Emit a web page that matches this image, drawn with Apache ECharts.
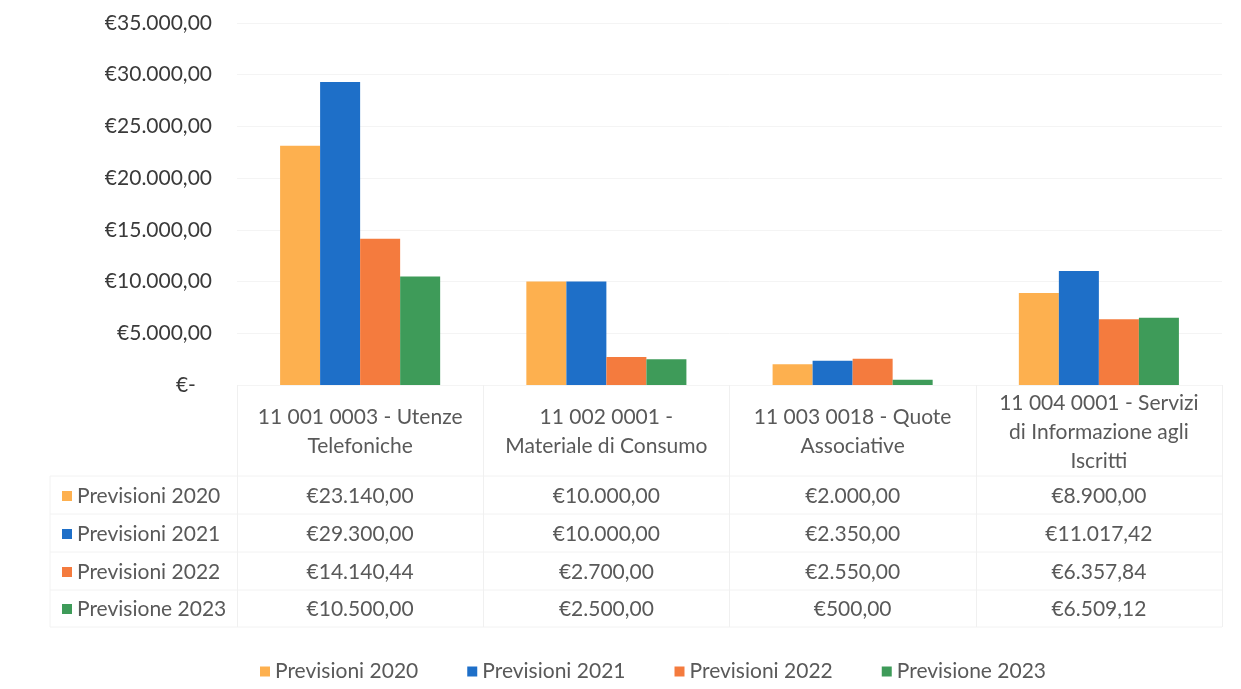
<!DOCTYPE html>
<html>
<head>
<meta charset="utf-8">
<script src="https://cdn.jsdelivr.net/npm/echarts@6/dist/echarts.min.js"></script>
<style>
  html, body { margin: 0; padding: 0; background: #ffffff; }
  #chart { width: 1241px; height: 689px; }
</style>
</head>
<body>
<div id="chart"></div>
<script>
// Budget lines (categories) and yearly forecasts
const categories = [
  '11 001 0003 - Utenze\nTelefoniche',
  '11 002 0001 -\nMateriale di Consumo',
  '11 003 0018 - Quote\nAssociative',
  '11 004 0001 - Servizi\ndi Informazione agli\nIscritti'
];
const seriesNames = ['Previsioni 2020', 'Previsioni 2021', 'Previsioni 2022', 'Previsione 2023'];
const prev2020 = [23140.00, 10000.00, 2000.00, 8900.00];
const prev2021 = [29300.00, 10000.00, 2350.00, 11017.42];
const prev2022 = [14140.44, 2700.00, 2550.00, 6357.84];
const prev2023 = [10500.00, 2500.00, 500.00, 6509.12];
const yTicks = [0, 5000, 10000, 15000, 20000, 25000, 30000, 35000];

const seriesValues = [prev2020, prev2021, prev2022, prev2023];
const colors = ['#FDB04F', '#1E6FC8', '#F47B3E', '#3E9B59'];
const FONT = 'Lato';
const FS = 21;
const TEXT = '#595959';

// Italian currency format: €12.345,67
function euro(v) {
  if (v === 0) return '€-   ';
  const parts = v.toFixed(2).split('.');
  const int = parts[0].replace(/\B(?=(\d{3})+(?!\d))/g, '.');
  return '€' + int + ',' + parts[1];
}

const gridLeft = 237, gridRight = 19, gridTop = 23, gridBottom = 304;
const rowOffsets = [111, 149, 187, 224];

// Data-table rows: one extra category axis per series, placed below the plot
const tableAxes = seriesValues.map((vals, i) => ({
  type: 'category',
  gridIndex: 0,
  position: 'bottom',
  offset: rowOffsets[i],
  data: vals.map(euro),
  axisLine: { show: false },
  axisTick: { show: false },
  axisLabel: {
    margin: 0, verticalAlign: 'middle', interval: 0,
    fontFamily: FONT, fontSize: FS, color: TEXT
  },
  name: '{k|}{t|' + seriesNames[i] + '}',
  nameLocation: 'start',
  nameGap: gridLeft - 62,
  nameTextStyle: {
    align: 'left', verticalAlign: 'middle',
    rich: {
      k: { backgroundColor: colors[i], width: 10, height: 10 },
      t: { fontFamily: FONT, fontSize: FS, color: TEXT, padding: [0, 0, 0, 5] }
    }
  }
}));

const rowLines = [476, 514, 552, 590, 627];
const graphics = rowLines.map(y => ({
  type: 'line', silent: true,
  shape: { x1: 50, y1: y, x2: 1222, y2: y },
  style: { stroke: '#f2f2f2', lineWidth: 1 }
}));
graphics.push({
  type: 'line', silent: true,
  shape: { x1: 50, y1: rowLines[0], x2: 50, y2: rowLines[rowLines.length - 1] },
  style: { stroke: '#f2f2f2', lineWidth: 1 }
});

const chart = echarts.init(document.getElementById('chart'), null, { renderer: 'canvas' });
chart.setOption({
  backgroundColor: '#ffffff',
  animation: false,
  color: colors,
  textStyle: { fontFamily: FONT },
  grid: { left: gridLeft, right: gridRight, top: gridTop, bottom: gridBottom, containLabel: false },
  legend: {
    data: seriesNames,
    left: 255, bottom: 2,
    icon: 'rect', itemWidth: 10, itemHeight: 10, itemGap: 49,
    textStyle: { fontFamily: FONT, fontSize: FS, color: TEXT, padding: [0, 0, 0, 0] }
  },
  xAxis: [{
    type: 'category',
    data: categories,
    axisLine: { show: false },
    axisTick: { show: true, length: 242, lineStyle: { color: '#f0f0f0' } },
    axisLabel: {
      interval: 0, margin: 47, verticalAlign: 'middle', lineHeight: 29,
      fontFamily: FONT, fontSize: FS, color: TEXT
    }
  }].concat(tableAxes),
  yAxis: {
    type: 'value',
    min: yTicks[0], max: yTicks[yTicks.length - 1], interval: 5000,
    axisLine: { show: false },
    axisTick: { show: false },
    splitLine: { lineStyle: { color: '#f4f4f4' } },
    axisLabel: {
      margin: 25, fontFamily: FONT, fontSize: FS, color: '#3a3a3a',
      formatter: euro
    }
  },
  series: seriesValues.map((vals, i) => ({
    name: seriesNames[i],
    type: 'bar',
    xAxisIndex: 0,
    data: vals,
    barGap: '0%',
    barCategoryGap: '35%',
    itemStyle: { color: colors[i] }
  })),
  graphic: graphics
});
</script>
</body>
</html>
